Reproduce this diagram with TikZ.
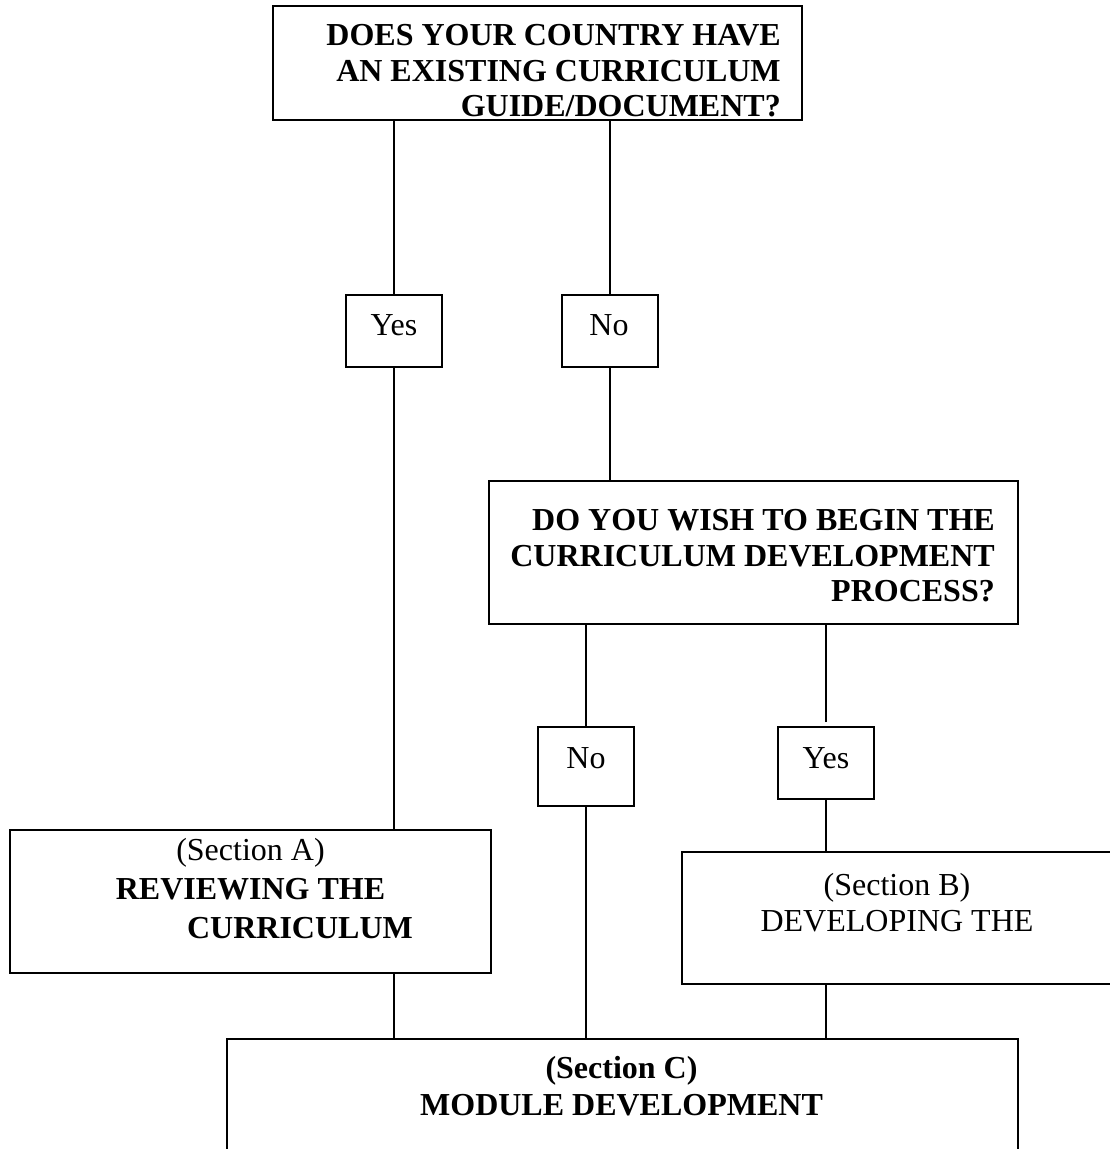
\documentclass[tikz,border=0pt]{standalone}
\usepackage{fontspec}
\setmainfont{Liberation Serif}
\begin{document}
\begin{tikzpicture}[x=1pt,y=-1pt,
  box/.style={draw, rectangle, line width=1.8pt, inner sep=0pt},
  link/.style={line width=1.8pt},
  txt/.style={inner sep=0pt},
  qfont/.style={font={\fontsize{32}{35.5}\selectfont\bfseries}},
  rfont/.style={font={\fontsize{32}{36}\selectfont}}
]
\useasboundingbox (0,0) rectangle (1109,1149);

% boxes
\node[box, minimum width=529, minimum height=114] (q1) at (537.5,63) {};
\node[box, minimum width=96, minimum height=72] (yes1) at (394,331) {};
\node[box, minimum width=96, minimum height=72] (no1) at (610,331) {};
\node[box, minimum width=529, minimum height=143] (q2) at (753.5,552.5) {};
\node[box, minimum width=96, minimum height=79] (no2) at (586,766.5) {};
\node[box, minimum width=96, minimum height=72] (yes2) at (826,763) {};
\node[box, minimum width=481, minimum height=143] (secA) at (250.5,901.5) {};
\node[box, minimum width=448, minimum height=132] (secB) at (906,918) {};
\node[box, minimum width=791, minimum height=131] (secC) at (622.5,1104.5) {};

% texts
\node[txt, qfont, align=right, anchor=north east] (q1t) at (781,24.4)
  {DOES YOUR COUNTRY HAVE\\AN EXISTING CURRICULUM\\GUIDE/DOCUMENT?};
\node[txt, rfont] (yes1t) at (394,325) {Yes};
\node[txt, rfont] (no1t) at (609,325) {No};
\node[txt, qfont, align=right, anchor=north east] (q2t) at (995,509.4)
  {DO YOU WISH TO BEGIN THE\\CURRICULUM DEVELOPMENT\\PROCESS?};
\node[txt, rfont] (no2t) at (586,758) {No};
\node[txt, rfont] (yes2t) at (826,758) {Yes};
\node[txt, align=center, anchor=north, font={\fontsize{32}{39}\selectfont}] (secAt) at (250.5,838.5)
  {(Section A)\\\textbf{REVIEWING THE}\\\textbf{\hspace*{99pt}CURRICULUM}};
\node[txt, rfont, align=center, anchor=north] (secBt) at (897,873.5)
  {(Section B)\\DEVELOPING THE};
\node[txt, align=center, anchor=north, font={\fontsize{32}{37}\selectfont\bfseries}] (secCt) at (621.5,1056.5)
  {(Section C)\\MODULE DEVELOPMENT};

% connectors
\coordinate (yes2top) at (826,722);
\draw[link] (yes1.north) -- (yes1.north |- q1.south);
\draw[link] (no1.north) -- (no1.north |- q1.south);
\draw[link] (yes1.south) -- (yes1.south |- secA.north);
\draw[link] (no1.south) -- (no1.south |- q2.north);
\draw[link] (no2.north) -- (no2.north |- q2.south);
\draw[link] (yes2top) -- (yes2top |- q2.south);
\draw[link] (no2.south) -- (no2.south |- secC.north);
\draw[link] (yes2.south) -- (yes2.south |- secB.north);
\draw[link] (yes1.south |- secA.south) -- (yes1.south |- secC.north);
\draw[link] (yes2.south |- secB.south) -- (yes2.south |- secC.north);
\end{tikzpicture}
\end{document}
